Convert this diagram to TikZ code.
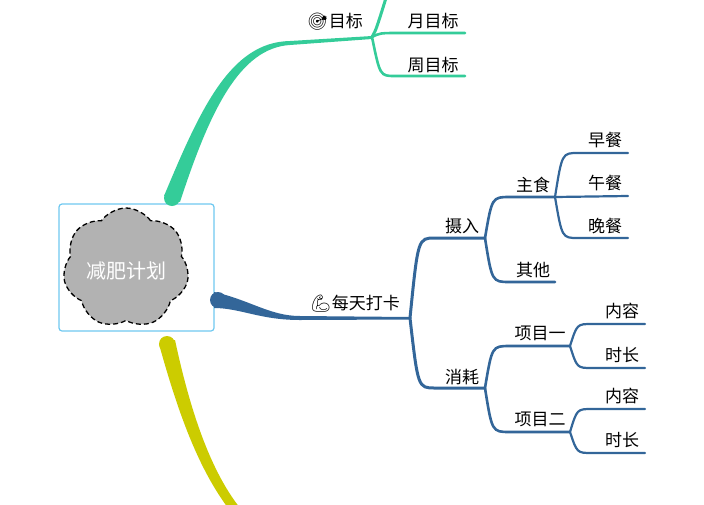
\documentclass[tikz,border=0pt]{standalone}
\usepackage{fontspec}
\setmainfont{Noto Sans CJK SC}
\newfontfamily\emo{Noto Emoji}
\usetikzlibrary{shapes.symbols}
\definecolor{gr}{RGB}{52,204,153}
\definecolor{bl}{RGB}{51,102,153}
\definecolor{ye}{RGB}{204,204,0}
\definecolor{bx}{RGB}{110,200,240}
\tikzset{lab/.style={font=\fontsize{17}{19}\selectfont,inner sep=0pt},
 sb/.style={draw=bl,line width=2.6pt,line cap=round},
 sg/.style={draw=gr,line width=2.6pt,line cap=round}}
\begin{document}
\begin{tikzpicture}[x=1pt,y=-1pt]
\useasboundingbox (0,0) rectangle (704,504);
% central
\node[draw=bx,line width=1.2pt,rounded corners=3pt,minimum width=155pt,minimum height=127pt,inner sep=0pt] (box) at (136.5,267.5) {};
\node[cloud,cloud puffs=7,cloud puff arc=110,aspect=1.05,draw=black,dash pattern=on 5pt off 3pt,line width=1.3pt,fill=black!30,minimum width=126pt,minimum height=120pt] (cl) at (126,268) {};
\node[text=white,font=\fontsize{20}{22}\selectfont] (root) at (126,271) {减肥计划};
% green main branch (tapered)
\coordinate (g0) at (172,198); \coordinate (g1) at (372,37);
\fill[gr] (172,198) circle (8);
\fill[gr] (164,196) .. controls (200,110) and (230,42) .. (290,41) -- (372,36) -- (372,39) -- (290,45) .. controls (240,48) and (210,110) .. (180,202) -- cycle;
\node[lab,anchor=south east] (goal) at (363,31) {{\emo 🎯}目标};
\coordinate (gup) at (386,-2);
\draw[sg,line width=3pt] (g1) .. controls (376,30) .. (gup);
\coordinate (m1) at (465,33); \coordinate (w1) at (465,76);
\draw[sg] (g1) .. controls (380,33) .. (400,33) -- (m1);
\draw[sg] (g1) .. controls (380,76) .. (395,76) -- (w1);
\node[lab] (mt) at (433,21) {月目标};
\node[lab] (wt) at (433,65) {周目标};
% yellow branch
\coordinate (y0) at (167,344);
\fill[ye] (167,344) circle (8);
\fill[ye] (159,344) .. controls (180,420) and (200,470) .. (228,508) -- (240,508) .. controls (210,470) and (190,410) .. (175,340) -- cycle;
% blue main branch
\coordinate (b0) at (218,300); \coordinate (b1) at (410,318);
\fill[bl] (218,300) circle (8);
\fill[bl] (214,292) .. controls (250,300) and (270,316) .. (300,316) -- (410,317) -- (410,319.5) -- (300,320) .. controls (260,320) and (240,308) .. (214,308) -- cycle;
\node[lab,anchor=south east] (daka) at (400,313) {{\emo 💪}每天打卡};
% level 2
\coordinate (sr) at (485,238); \coordinate (xh) at (485,388);
\draw[sb,line width=3pt] (b1) .. controls (418,238) .. (435,238) -- (sr);
\draw[sb,line width=3pt] (b1) .. controls (418,388) .. (435,388) -- (xh);
\node[lab] (srt) at (462,226) {摄入};
\node[lab] (xht) at (462,377) {消耗};
% level 3
\coordinate (zs) at (555,197); \coordinate (qt) at (555,282);
\draw[sb] (sr) .. controls (492,197) .. (510,197) -- (zs);
\draw[sb] (sr) .. controls (492,282) .. (510,282) -- (qt);
\node[lab] (zst) at (533,185) {主食};
\node[lab] (qtt) at (533,270) {其他};
\coordinate (p1) at (570,346); \coordinate (p2) at (570,432);
\draw[sb] (xh) .. controls (492,346) .. (510,346) -- (p1);
\draw[sb] (xh) .. controls (492,432) .. (510,432) -- (p2);
\node[lab] (p1t) at (540,333) {项目一};
\node[lab] (p2t) at (540,419) {项目二};
% level 4
\coordinate (e1) at (628,153); \coordinate (e2) at (628,196); \coordinate (e3) at (628,238);
\draw[sb,line width=2.2pt] (zs) .. controls (562,153) .. (578,153) -- (e1);
\draw[sb,line width=2.2pt] (zs) -- (e2);
\draw[sb,line width=2.2pt] (zs) .. controls (562,238) .. (578,238) -- (e3);
\node[lab] (e1t) at (605,140) {早餐};
\node[lab] (e2t) at (605,183) {午餐};
\node[lab] (e3t) at (605,226) {晚餐};
\coordinate (f1) at (645,324); \coordinate (f2) at (645,368);
\coordinate (f3) at (645,409); \coordinate (f4) at (645,453);
\draw[sb,line width=2.2pt] (p1) .. controls (577,324) .. (592,324) -- (f1);
\draw[sb,line width=2.2pt] (p1) .. controls (577,368) .. (592,368) -- (f2);
\draw[sb,line width=2.2pt] (p2) .. controls (577,409) .. (592,409) -- (f3);
\draw[sb,line width=2.2pt] (p2) .. controls (577,453) .. (592,453) -- (f4);
\node[lab] (f1t) at (622,311) {内容};
\node[lab] (f2t) at (622,355) {时长};
\node[lab] (f3t) at (622,396) {内容};
\node[lab] (f4t) at (622,440) {时长};
\end{tikzpicture}
\end{document}
